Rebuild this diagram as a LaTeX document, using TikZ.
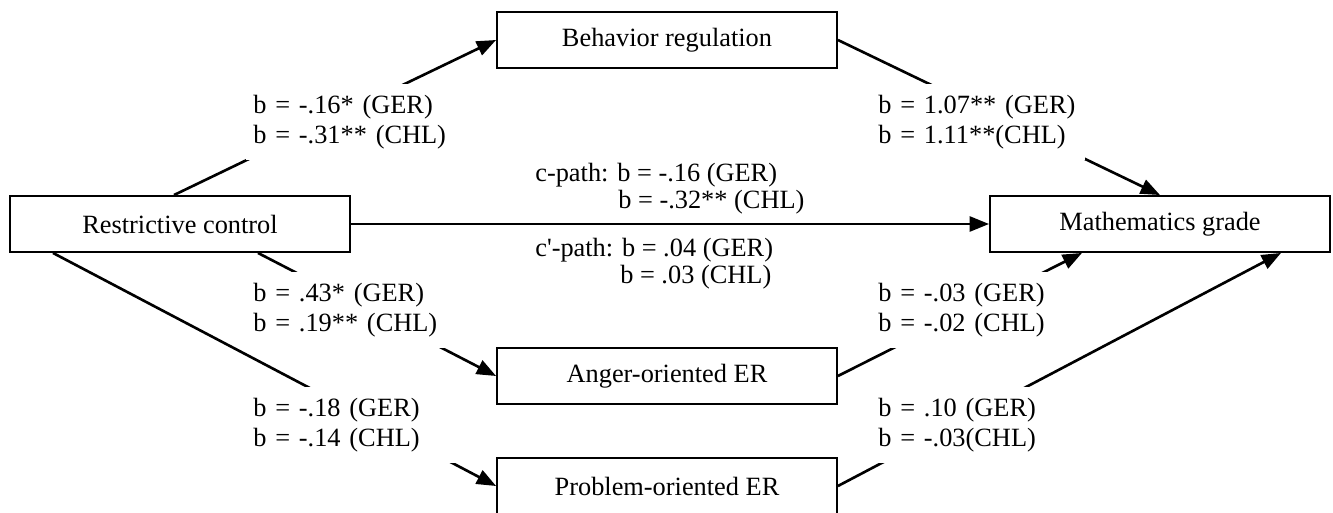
\documentclass[tikz,border=0pt]{standalone}
\usepackage{fontspec}
\setmainfont{Liberation Serif}
\usetikzlibrary{arrows.meta,calc}
\tikzset{>={Triangle[length=11pt,width=8.5pt]}}
\tikzset{
  var/.style={draw, line width=1.1pt, minimum width=6.8cm, minimum height=1.12cm, font=\fontsize{15}{17}\selectfont},
  coef/.style={fill=white, align=left, text width=4cm, inner xsep=0.14cm, inner ysep=0pt,
    minimum height=1.54cm, anchor=west, font=\fontsize{15}{17}\selectfont},
  cpath/.style={align=left, inner sep=0pt, anchor=west, font=\fontsize{15}{15.4}\selectfont}
}

\begin{document}
\begin{tikzpicture}[x=0.02cm, y=-0.02cm, line width=1.5pt]
        \useasboundingbox (0,0) rectangle (1333,513);
        \node[var] (rc) at (180,224) {Restrictive control}; %predictor
        \node[var] (br) at (667,40) {Behavior regulation};
        \node[var] (math) at (1160,224) {Mathematics grade}; %outcome
        \node[var] (anger) at (667,376) {Anger-oriented ER};
        \node[var] (problem) at (667,486) {Problem-oriented ER};

        \path[->]
        ($(rc.north)+(-6,0)$) edge (br.west)
        (br.east) edge (math.north)
        (rc.east) edge (math.west)
        ($(rc.south)+(78,0)$) edge (anger.west)
        ($(rc.south)+(-127,0)$) edge (problem.west)
        (anger.east) edge ($(math.south)+(-78,0)$)
        (problem.east) edge ($(math.south)+(121,0)$);

        % coefficients, white boxes break the lines
        \node[coef] (brin) at (245,122) {b = -.16* (GER)\\b = -.31** (CHL)};
        \node[coef] (brout) at (870,122) {b = 1.07** (GER)\\b = 1.11**(CHL)};
        \node[coef] (angerin) at (245,310) {b = .43* (GER)\\b = .19** (CHL)};
        \node[coef] (angerout) at (870,310) {b = -.03 (GER)\\b = -.02 (CHL)};
        \node[coef] (probin) at (245,425) {b = -.18 (GER)\\b = -.14 (CHL)};
        \node[coef] (probout) at (870,425) {b = .10 (GER)\\b = -.03(CHL)};
        \node[cpath] (ctotal) at (534,188.5) {c-path: b = -.16 (GER)\\\hspace*{1.66cm}b = -.32** (CHL)};
        \node[cpath] (cdirect) at (534,263.5) {c\textquotesingle-path: b = .04 (GER)\\\hspace*{1.7cm}b = .03 (CHL)};
\end{tikzpicture}
\end{document}
